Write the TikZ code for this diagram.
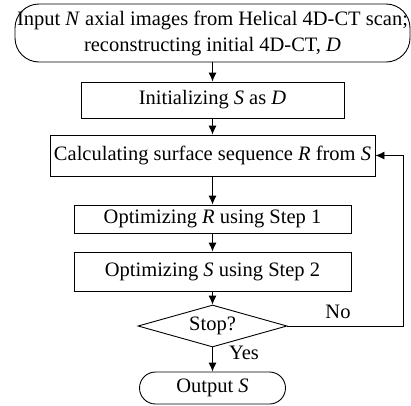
\documentclass[tikz,border=0pt]{standalone}
\usepackage{fontspec}
\setmainfont{Liberation Serif}
\usetikzlibrary{shapes.geometric,arrows.meta}

\begin{document}
\begin{tikzpicture}[x=1pt, y=-1pt, line width=0.9pt,
  every node/.style={font=\fontsize{20.5}{26}\selectfont, inner sep=0pt},
  procbox/.style={draw, rectangle, align=center},
  termbox/.style={draw, rectangle, rounded corners=#1, align=center},
  flow/.style={-{Latex[length=9pt,width=8pt]}}]
\useasboundingbox (0,0) rectangle (411,405);
\node[termbox=24pt, minimum width=395pt, minimum height=58pt] (input) at (212.5,33)
  {Input \textit{N} axial images from Helical 4D-CT scan;\\reconstructing initial 4D-CT, \textit{D}};
\node[procbox, minimum width=263pt, minimum height=36pt] (init) at (212.5,100) {Initializing \textit{S} as \textit{D}};
\node[procbox, minimum width=325pt, minimum height=41pt] (calc) at (212.5,155.5) {Calculating surface sequence \textit{R} from \textit{S}};
\node[procbox, minimum width=277pt, minimum height=28pt] (optR) at (212.5,219) {Optimizing \textit{R} using Step 1};
\node[procbox, minimum width=277pt, minimum height=39pt] (optS) at (212.5,271.5) {Optimizing \textit{S} using Step 2};
\node[draw, diamond, aspect=3.5, minimum width=149pt, minimum height=42pt] (stop) at (212.5,326) {Stop?};
\node[termbox=16pt, minimum width=146pt, minimum height=32pt] (out) at (212.5,388) {Output \textit{S}};
\coordinate (back) at (403,326);
\draw[flow] (input) -- (init);
\draw[flow] (init) -- (calc);
\draw[flow] (calc) -- (optR);
\draw[flow] (optR) -- (optS);
\draw[flow] (optS) -- (stop);
\draw[flow] (stop) -- (out);
\draw[flow] (stop.east) -- (back) |- (calc.east);
\node (no) at (338,312) {No};
\node (yes) at (244,353) {Yes};
\end{tikzpicture}
\end{document}
